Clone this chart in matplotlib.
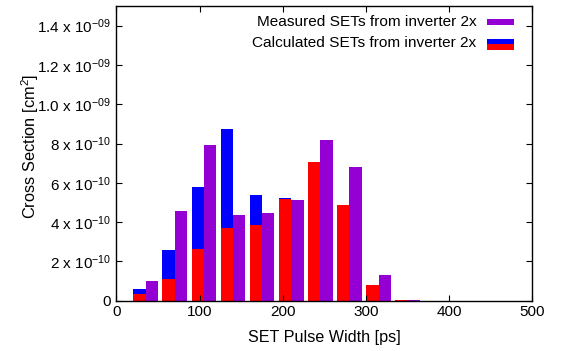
import matplotlib
matplotlib.use("Agg")
import matplotlib.pyplot as plt
import numpy as np

plt.rcParams["font.family"] = ["Liberation Sans", "DejaVu Sans"]
plt.rcParams["mathtext.default"] = "regular"

# SET pulse width bins [ps]
bins = [35, 70, 105, 140, 175, 210, 245, 280, 315, 350]
# cross sections in units of 1e-10 cm^2
measured   = [0.98, 4.55, 7.92, 4.35, 4.45, 5.11, 8.17, 6.80, 1.29, 0.03]
calc_total = [0.58, 2.57, 5.80, 8.73, 5.37, 5.22, 7.05, 4.86, 0.78, 0.03]
calc_part  = [0.34, 1.09, 2.62, 3.69, 3.84, 5.16, 7.05, 4.86, 0.78, 0.03]

yticks = [0, 2e-10, 4e-10, 6e-10, 8e-10, 1.0e-9, 1.2e-9, 1.4e-9]
ytick_labels = ["0", r"2 x 10$^{-10}$", r"4 x 10$^{-10}$", r"6 x 10$^{-10}$",
                r"8 x 10$^{-10}$", r"1.0 x 10$^{-09}$", r"1.2 x 10$^{-09}$",
                r"1.4 x 10$^{-09}$"]

x = np.array(bins, dtype=float)
scale = 1e-10
w = 14.8

fig = plt.figure(figsize=(5.63, 3.51), dpi=100)
ax = fig.add_axes([0.2069, 0.1433, 0.7389, 0.8397])

ax.bar(x - w / 2, np.array(calc_total) * scale, width=w, color="#0000ff", linewidth=0)
ax.bar(x - w / 2, np.array(calc_part) * scale, width=w, color="#ff0000", linewidth=0)
ax.bar(x + w / 2, np.array(measured) * scale, width=w, color="#9400d3", linewidth=0)

ax.set_xlim(0, 500)
ax.set_ylim(0, 1.5e-9)
ax.set_xticks([0, 100, 200, 300, 400, 500])
ax.set_yticks(yticks)
ax.set_yticklabels(ytick_labels)
ax.tick_params(direction="in", length=4, width=0.8, labelsize=11,
               top=True, right=True)
ax.tick_params(axis="y", pad=4)
ax.tick_params(axis="x", pad=3)
for s in ax.spines.values():
    s.set_linewidth(1.0)

ax.set_xlabel("SET Pulse Width [ps]", fontsize=11.6, labelpad=8)
ax.set_ylabel(r"Cross Section [cm$^{2}$]", fontsize=11.8)
ax.yaxis.set_label_coords(-0.182, 0.525)

# gnuplot-style key
tx = 0.866
ax.text(tx, 0.944, "Measured SETs from inverter 2x", transform=ax.transAxes,
        ha="right", va="center", fontsize=11.1)
ax.text(tx, 0.874, "Calculated SETs from inverter 2x", transform=ax.transAxes,
        ha="right", va="center", fontsize=11.1)
kx, kw = 0.8906, 0.065
ax.add_patch(plt.Rectangle((kx, 0.9355), kw, 0.0205, transform=ax.transAxes,
                           color="#9400d3", lw=0))
ax.add_patch(plt.Rectangle((kx, 0.872), kw, 0.016, transform=ax.transAxes,
                           color="#0000ff", lw=0))
ax.add_patch(plt.Rectangle((kx, 0.852), kw, 0.020, transform=ax.transAxes,
                           color="#ff0000", lw=0))

fig.savefig("out.png", dpi=100)
